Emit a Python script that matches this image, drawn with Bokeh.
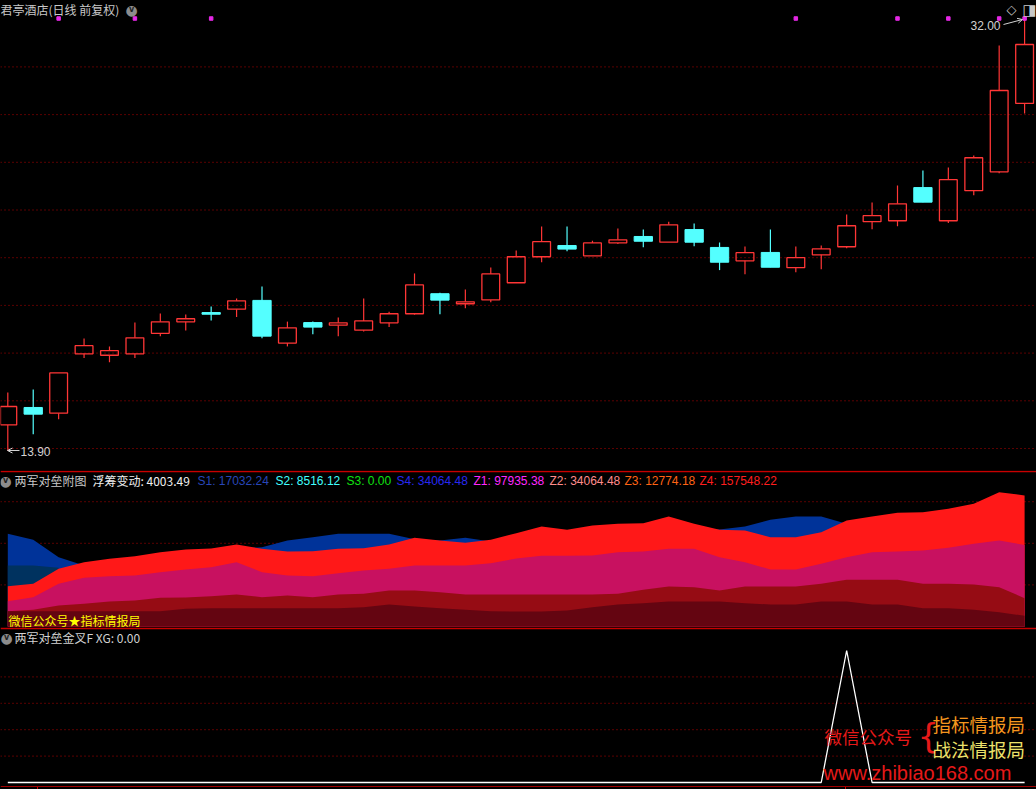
from bokeh.plotting import figure
from bokeh.layouts import column
from bokeh.models import (Range1d, Span, Label, Arrow, OpenHead, ColumnDataSource,
                          GlobalInlineStyleSheet)
from bokeh.embed import file_html
from bokeh.resources import INLINE

# ---------------- data ----------------
opens  = [14.99, 15.72, 15.48, 17.97, 17.91, 17.97, 18.83, 19.31, 19.70, 19.84,
          20.21, 18.42, 19.28, 19.17, 18.96, 19.27, 19.65, 20.49, 20.07, 20.23,
          20.95, 22.04, 22.51, 22.08, 22.62, 22.89, 22.65, 23.18, 22.43, 21.87,
          22.22, 21.58, 22.12, 22.46, 23.51, 23.55, 24.94, 23.55, 24.81, 25.60, 28.47]
highs  = [16.35, 16.47, 17.17, 18.61, 18.28, 19.28, 19.66, 19.62, 19.95, 20.29,
          20.79, 19.32, 19.32, 19.49, 20.29, 19.73, 21.34, 20.53, 20.67, 21.59,
          22.30, 23.31, 23.31, 22.71, 23.22, 23.18, 23.51, 23.43, 22.64, 22.47,
          23.18, 22.47, 22.51, 23.81, 24.31, 25.03, 25.66, 25.78, 26.28, 30.90, 32.00]
lows   = [13.90, 14.60, 15.23, 17.79, 17.62, 17.79, 18.71, 18.95, 19.37, 19.51,
          18.62, 18.28, 18.79, 18.71, 18.91, 19.09, 19.61, 19.63, 19.88, 20.13,
          20.95, 21.81, 22.27, 22.08, 22.57, 22.44, 22.65, 22.48, 21.48, 21.31,
          21.60, 21.39, 21.52, 22.40, 23.19, 23.32, 24.33, 23.45, 24.62, 25.54, 28.05]
closes = [15.76, 15.44, 17.17, 18.31, 18.10, 18.64, 19.31, 19.44, 19.63, 20.19,
          18.71, 19.06, 19.09, 19.27, 19.35, 19.65, 20.86, 20.22, 20.15, 21.32,
          22.04, 22.67, 22.36, 22.62, 22.75, 22.69, 23.38, 22.65, 21.81, 22.21,
          21.60, 22.00, 22.37, 23.34, 23.76, 24.26, 24.33, 25.27, 26.19, 29.01, 30.94]
signal_idx = [2, 5, 8, 31, 35, 37, 39, 40]

# sub-chart series
z4 = [48485, 51290, 69321, 77335, 81342, 84548, 89356, 92562, 93764, 98572,
      93363, 90158, 90558, 93363, 94165, 98572, 106586, 103381, 100576, 104182,
      112196, 120210, 116203, 121412, 123416, 124217, 132231, 123416, 116203, 115402,
      107388, 107388, 113398, 127423, 132231, 136639, 137440, 141447, 147458, 161482, 157548.22]
z1 = [30453, 35262, 51290, 58502, 60506, 61307, 65314, 68520, 71325, 77335,
      65314, 61307, 60506, 64112, 67318, 69321, 73328, 73328, 73328, 76133,
      81743, 84948, 84948, 85349, 89356, 90158, 93363, 93363, 83346, 77335,
      68520, 68520, 75332, 83346, 89356, 90158, 91360, 94565, 99374, 103381, 97935.38]
z2 = [18432, 20035, 25244, 27248, 30053, 31255, 34460, 34861, 36464, 38467,
      35262, 37265, 35262, 38467, 39269, 43276, 43276, 41272, 38467, 38467,
      38467, 38467, 38467, 38467, 39269, 44077, 48084, 47283, 43276, 48084,
      48084, 48084, 51290, 56098, 56098, 56098, 51290, 51290, 50488, 47283, 34064.48]
z3 = [18432, 18432, 18432, 18432, 18432, 18432, 18432, 21237, 22039, 22039,
      22039, 22039, 22039, 22039, 23241, 26446, 24042, 22039, 20035, 18432,
      18032, 18032, 19234, 23241, 26446, 28049, 30053, 30053, 30053, 28049,
      26446, 26446, 30053, 30053, 26446, 26446, 22039, 22039, 20035, 17230, 12774.18]
s4 = [111395, 104182, 83346, 73328, 72126, 72126, 74129, 76133, 80140, 93363,
      95367, 103381, 107388, 111395, 111395, 111395, 105000, 103381, 106586, 102178,
      108189, 115000, 112000, 110000, 112000, 114000, 116000, 118000, 116500, 120210,
      128224, 132231, 132231, 123416, 110000, 100000, 90000, 80000, 65000, 50000, 34064.48]
s_teal = [73328, 73328, 70523]
float_chg = 4003.49
s1_last, s2_last, s3_last = 17032.24, 8516.12, 0.00
xg = [0] * 33 + [1] + [0] * 7

idx = list(range(len(opens)))

# ---------------- geometry helpers ----------------
W, H1, H2, H3 = 1036, 470, 160, 159
REF_MID0 = H1
REF_BOT0 = H1 + H2

def price_at(y):   # reference pixel -> price
    return 14 + (448 - y) / 23.85

def val_at(y):     # reference pixel -> sub-chart value
    return (626 - y) * 1202.0

def xg_at(y):
    return (782 - y) / 132.0

def ix(x):         # reference pixel x -> bar index
    return (x - 7.3) / 25.42

xr = Range1d(ix(0), ix(1036))

CJK = "Noto Sans CJK SC"
LAT = "Liberation Sans"
GRID = "#b40000"
BORDER = "#c80000"
RED = "#ff3636"
CYAN = "#54ffff"

def mkfig(h, yr):
    p = figure(width=W, height=h, x_range=xr, y_range=yr, tools="",
               toolbar_location=None, output_backend="svg",
               x_axis_location=None, y_axis_location=None, min_border=0)
    p.background_fill_color = "black"
    p.border_fill_color = "black"
    p.outline_line_color = None
    p.xgrid.visible = False
    p.ygrid.visible = False
    return p

def grid(p, loc):
    p.add_layout(Span(location=loc, dimension="width", line_color=GRID,
                      line_dash="1 3", line_width=1, level="underlay"))

def lab(p, text, x, y, color, font=CJK, size="12px", align="left", style="normal"):
    p.add_layout(Label(x=x, y=y, x_units="screen", y_units="screen", text=text,
                       text_color=color, text_font=font, text_font_size=size,
                       text_align=align, text_baseline="middle", text_font_style=style))

def icon(p, x, y):
    lab(p, "●", x, y, "#8c8c8c", font="DejaVu Sans", size="14px", align="center")
    lab(p, "v", x, y + 0.5, "#202020", font="DejaVu Sans", size="8px", align="center", style="bold")

# ---------------- main price panel ----------------
p1 = mkfig(H1, Range1d(price_at(REF_MID0), price_at(0)))
sm = lambda y: H1 - y
for g in range(14, 31, 2):
    grid(p1, g)

up_x, up_o, up_c, up_h, up_l = [], [], [], [], []
dn_x, dn_o, dn_c, dn_h, dn_l = [], [], [], [], []
for i, o, h, l, c in zip(idx, opens, highs, lows, closes):
    if c >= o:
        up_x.append(i); up_o.append(o); up_c.append(c); up_h.append(h); up_l.append(l)
    else:
        dn_x.append(i); dn_o.append(o); dn_c.append(c); dn_h.append(h); dn_l.append(l)

up = ColumnDataSource(dict(x=up_x, o=up_o, c=up_c, h=up_h, l=up_l))
dn = ColumnDataSource(dict(x=dn_x, o=dn_o, c=dn_c, h=dn_h, l=dn_l))

p1.segment(x0="x", y0="h", x1="x", y1="c", source=up, line_color=RED, line_width=1.2)
p1.segment(x0="x", y0="o", x1="x", y1="l", source=up, line_color=RED, line_width=1.2)
p1.vbar(x="x", width=0.70, top="c", bottom="o", source=up, fill_color=None,
        line_color=RED, line_width=1.3)
p1.segment(x0="x", y0="h", x1="x", y1="l", source=dn, line_color=CYAN, line_width=1.2)
p1.vbar(x="x", width=0.72, top="o", bottom="c", source=dn, fill_color=CYAN,
        line_color=CYAN, line_width=1)

p1.scatter(x=signal_idx, y=[price_at(18)] * len(signal_idx), marker="square",
           size=3.5, color="#e628e6")

lab(p1, "君亭酒店(日线 前复权)", 0, sm(8.5), "#c8c8c8")
icon(p1, 131, sm(9))
lab(p1, "◇", 1011, sm(9), "#c8c8c8", font="DejaVu Sans", size="13px", align="center")
lab(p1, "◨", 1029, sm(9), "#c8c8c8", font="DejaVu Sans", size="15px", align="center")

lab(p1, "%.2f" % max(highs), 1000, sm(25), "#d2d2d2", font=LAT, size="12px", align="right")
p1.add_layout(Arrow(end=OpenHead(size=5, line_color="#d2d2d2", line_width=1),
                    x_start=ix(1003), y_start=price_at(24), x_end=ix(1022), y_end=price_at(19),
                    line_color="#d2d2d2", line_width=1))
p1.add_layout(Arrow(end=OpenHead(size=5, line_color="#d2d2d2", line_width=1),
                    x_start=ix(19), y_start=price_at(450), x_end=ix(7), y_end=price_at(450),
                    line_color="#d2d2d2", line_width=1))
lab(p1, "%.2f" % min(lows), 20, sm(451), "#d2d2d2", font=LAT, size="12px")

# ---------------- middle panel ----------------
p2 = mkfig(H2, Range1d(val_at(REF_BOT0), val_at(REF_MID0)))
smd = lambda y: H2 - (y - REF_MID0)
for g in (50000, 100000, 150000):
    grid(p2, g)
p2.varea(x=idx, y1=[0] * len(idx), y2=s4, fill_color="#003399")
p2.varea(x=idx[:len(s_teal)], y1=[0] * len(s_teal), y2=s_teal, fill_color="#00325f")
p2.varea(x=idx, y1=[0] * len(idx), y2=z4, fill_color="#ff1818")
p2.varea(x=idx, y1=[0] * len(idx), y2=z1, fill_color="#c81160")
p2.varea(x=idx, y1=[0] * len(idx), y2=z2, fill_color="#960c14")
p2.varea(x=idx, y1=[0] * len(idx), y2=z3, fill_color="#640511")
p2.add_layout(Span(location=val_at(471), dimension="width", line_color=BORDER, line_width=1.5))
p2.add_layout(Span(location=val_at(628), dimension="width", line_color=BORDER, line_width=1.5))

icon(p2, 5, smd(480))
header = [
    ("两军对垒附图", 14, "#c8c8c8", CJK),
    ("浮筹变动: %.2f" % float_chg, 92, "#f0f0f0", CJK),
    ("S1: %.2f" % s1_last, 197, "#2846b8", LAT),
    ("S2: %.2f" % s2_last, 275, "#40ffff", LAT),
    ("S3: %.2f" % s3_last, 346, "#10e010", LAT),
    ("S4: %.2f" % s4[-1], 396, "#2828f0", LAT),
    ("Z1: %.2f" % z1[-1], 473, "#ff28ff", LAT),
    ("Z2: %.2f" % z2[-1], 549, "#ff8c8c", LAT),
    ("Z3: %.2f" % z3[-1], 624, "#ff6414", LAT),
    ("Z4: %.2f" % z4[-1], 699, "#ff1e1e", LAT),
]
for t, x, c, f in header:
    lab(p2, t, x, smd(480), c, font=f)
lab(p2, "微信公众号★指标情报局", 8, smd(620), "#ffff00")

# ---------------- bottom panel ----------------
p3 = mkfig(H3, Range1d(xg_at(789), xg_at(REF_BOT0)))
sb = lambda y: H3 - (y - REF_BOT0)
for g in (0.2, 0.4, 0.6, 0.8):
    grid(p3, g)
p3.add_layout(Span(location=xg_at(786), dimension="width", line_color="#a00000", line_width=1))
p3.segment(x0=[ix(37), ix(845)], y0=[xg_at(786)] * 2, x1=[ix(37), ix(845)],
           y1=[xg_at(790)] * 2, line_color="#c80000", line_width=1)
p3.line(idx, xg, line_color="white", line_width=1.3)

icon(p3, 6, sb(637))
lab(p3, "两军对垒金叉F  XG: %.2f" % xg[-1], 14, sb(637), "#d2d2d2")

lab(p3, "微信公众号", 824, sb(736), "#e61919", size="17.5px")
lab(p3, "{", 917, sb(735), "#e61919", font="DejaVu Sans", size="34px")
lab(p3, "指标情报局", 932, sb(723), "#f5961e", size="18.5px")
lab(p3, "战法情报局", 932, sb(748), "#ece26a", size="18.5px")
lab(p3, "www.zhibiao168.com", 823, sb(772), "#e61919", font=LAT, size="20px")

layout = column(p1, p2, p3, spacing=0,
                stylesheets=[GlobalInlineStyleSheet(css="html, body { background-color: #000000; }")])

open("out.html", "w").write(file_html(layout, INLINE))
